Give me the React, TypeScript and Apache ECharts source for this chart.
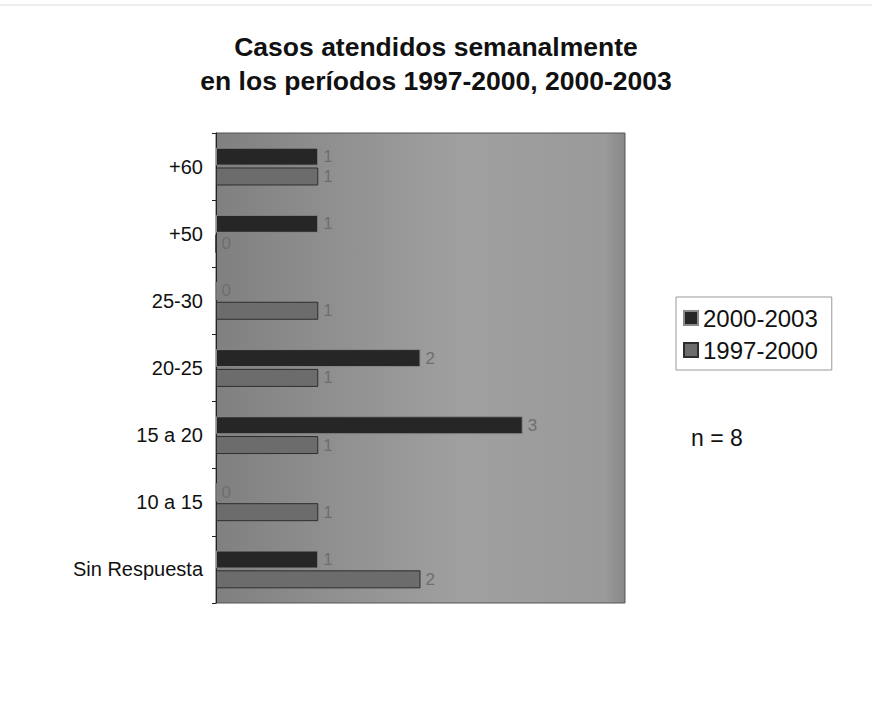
import React, { useEffect, useRef } from "react";
import * as echarts from "echarts";

// Age groups, listed top to bottom
const categories = ["+60", "+50", "25-30", "20-25", "15 a 20", "10 a 15", "Sin Respuesta"];
const seriesNames = ["2000-2003", "1997-2000"];
const values2000_2003 = [1, 1, 0, 2, 3, 0, 1];
const values1997_2000 = [1, 0, 1, 1, 1, 1, 2];
const titleLines = ["Casos atendidos semanalmente", "en los períodos 1997-2000, 2000-2003"];
const noteText = "n = 8";

const FONT = "'Liberation Sans', Arial, Helvetica, sans-serif";

export default function App() {
  const ref = useRef<HTMLDivElement>(null);

  useEffect(() => {
    if (!ref.current) return;
    const chart = echarts.init(ref.current, undefined, { renderer: "svg" });

    const labelStyle = {
      show: true,
      position: "right" as const,
      distance: 5,
      color: "#6e6e6e",
      fontSize: 17,
      fontFamily: FONT,
    };

    chart.setOption({
      animation: false,
      backgroundColor: "#ffffff",
      title: {
        text: titleLines.join("\n"),
        left: "center",
        top: 25,
        textStyle: {
          fontFamily: FONT,
          fontSize: 26.5,
          fontWeight: "bold",
          color: "#111111",
          lineHeight: 34,
        },
      },
      legend: {
        data: seriesNames,
        orient: "vertical",
        left: 676,
        top: 297,
        padding: [9, 14, 8, 7],
        itemGap: 8,
        icon: "rect",
        itemWidth: 14,
        itemHeight: 14,
        borderColor: "#999999",
        borderWidth: 1,
        textStyle: { fontFamily: FONT, fontSize: 24, color: "#111111" },
      },
      graphic: [
        {
          type: "text",
          left: 691,
          top: 426,
          style: { text: noteText, fontFamily: FONT, fontSize: 23, fill: "#111111" },
        },
        {
          type: "line",
          shape: { x1: 0, y1: 5, x2: 872, y2: 5 },
          style: { stroke: "#dddddd", lineWidth: 1 },
        },
      ],
      grid: {
        left: 216,
        right: 247,
        top: 133,
        bottom: 113,
        show: true,
        borderColor: "#555555",
        borderWidth: 1,
        backgroundColor: new echarts.graphic.LinearGradient(0, 0, 1, 0, [
          { offset: 0, color: "#808080" },
          { offset: 0.35, color: "#939393" },
          { offset: 0.6, color: "#a0a0a0" },
          { offset: 0.95, color: "#9a9a9a" },
          { offset: 1, color: "#888888" },
        ]),
      },
      xAxis: {
        type: "value",
        min: 0,
        max: 4,
        show: false,
        splitLine: { show: false },
      },
      yAxis: {
        type: "category",
        data: categories,
        inverse: true,
        axisLine: { show: true, lineStyle: { color: "#222222", width: 1 } },
        axisTick: { show: true, length: 4, lineStyle: { color: "#222222" } },
        axisLabel: { fontFamily: FONT, fontSize: 20, color: "#111111", margin: 13 },
      },
      series: [
        {
          name: seriesNames[0],
          type: "bar",
          data: values2000_2003,
          barWidth: 18,
          barGap: "10%",
          itemStyle: { color: "#262626", borderColor: "#8a8a8a", borderWidth: 1 },
          label: labelStyle,
        },
        {
          name: seriesNames[1],
          type: "bar",
          data: values1997_2000,
          barWidth: 18,
          barGap: "10%",
          itemStyle: { color: "#6c6c6c", borderColor: "#2e2e2e", borderWidth: 1 },
          label: labelStyle,
        },
      ],
    });

    return () => chart.dispose();
  }, []);

  return (
    <div
      ref={ref}
      style={{ position: "absolute", left: 0, top: 0, width: 872, height: 716 }}
    />
  );
}
